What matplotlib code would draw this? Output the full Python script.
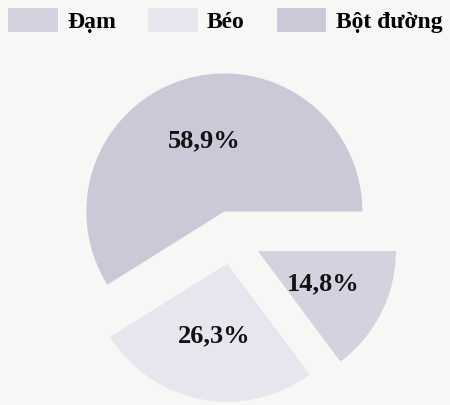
import matplotlib
matplotlib.use('Agg')
import matplotlib.pyplot as plt

labels = ['Đạm', 'Bột đường', 'Béo']
values = [14.8, 58.9, 26.3]
colors = ['#d3d3e0', '#c9c9d8', '#e6e6ee']
explode = [0.21, 0.2, 0.19]
legend_order = [0, 2, 1]

plt.rcParams['font.family'] = ['Liberation Serif', 'DejaVu Serif']

# pie centre and radius in pixels
cx, cy, r = 232, 167, 138

fig = plt.figure(figsize=(4.5, 4.05), dpi=100, facecolor='#f7f7f5')
ax = fig.add_axes([0, 0, 1, 1])
ax.set_facecolor('#f7f7f5')

wedges, texts, autotexts = ax.pie(
    values, colors=colors, explode=explode, startangle=-53.28,
    autopct=lambda p: f'{p:.1f}%'.replace('.', ','), pctdistance=0.53,
    radius=1.0, wedgeprops={'linewidth': 0},
    textprops={'fontsize': 19, 'fontweight': 'bold', 'color': '#111111'})

ax.set_aspect('equal')
ax.set_xlim(-cx / r, (450 - cx) / r)
ax.set_ylim(-cy / r, (405 - cy) / r)
ax.axis('off')

ax.legend([wedges[i] for i in legend_order], [labels[i] for i in legend_order],
          loc='upper left', bbox_to_anchor=(0.0, 1.0),
          ncol=3, frameon=False, handlelength=2.1, handleheight=1.2,
          handletextpad=0.4, columnspacing=1.35, borderaxespad=0.15,
          borderpad=0.2, prop={'size': 17, 'weight': 'bold'})

fig.savefig('out.png', dpi=100, facecolor=fig.get_facecolor())
